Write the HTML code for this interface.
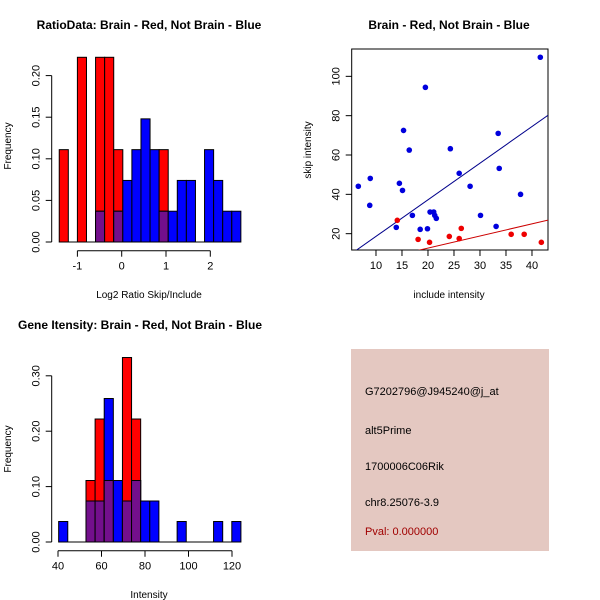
<!DOCTYPE html>
<html><head><meta charset="utf-8"><style>
body{margin:0;background:#fff}
svg{display:block;font-family:"Liberation Sans",sans-serif}
</style></head><body>
<svg id="c" width="600" height="600" viewBox="0 0 600 600" xmlns="http://www.w3.org/2000/svg">
<rect width="600" height="600" fill="#fff"/>
<g id="p1"></g>
<g id="p2"></g>
<g id="p3"></g>
<g>
<rect x="351" y="349" width="198" height="202" fill="#e4c8c1"/>
<text x="365" y="395" font-size="11">G7202796@J945240@j_at</text>
<text x="365" y="434" font-size="11">alt5Prime</text>
<text x="365" y="470" font-size="11">1700006C06Rik</text>
<text x="365" y="506" font-size="11">chr8.25076-3.9</text>
<text x="365" y="535" font-size="11" fill="#a00000">Pval: 0.000000</text>
</g>
</svg>
<script>
// Panel 1: ratio histogram
const ratioBinStart = -1.41;
const ratioBinWidth = 0.205;
const ratioRed  = [0.111,0,0.222,0,0.222,0.222,0.111,0,0,0,0,0.111,0,0,0,0,0,0,0,0];
const ratioBlue = [0,0,0,0,0.037,0,0.037,0.074,0.111,0.148,0.111,0.037,0.037,0.074,0.074,0,0.111,0.074,0.037,0.037];
const ratioXTicks = [-1,0,1,2];
const ratioYTicks = ["0.00","0.05","0.10","0.15","0.20"];

// Panel 2: scatter
const blueX = [6.6,8.9,8.8,14.5,15.1,15.3,16.4,13.9,17.0,19.5,18.5,19.9,20.4,21.1,21.3,21.6,24.3,26.0,28.1,30.1,33.1,33.5,33.7,37.8,41.6];
const blueY = [44.1,48.1,34.4,45.6,42.0,72.5,62.5,23.2,29.3,94.4,22.2,22.5,31.0,31.0,29.3,27.8,63.2,50.7,44.1,29.3,23.7,71.0,53.2,40.0,109.7];
const redX = [14.1,18.1,20.3,24.1,26.0,26.4,36.0,38.5,41.8];
const redY = [26.8,17.1,15.6,18.6,17.5,22.7,19.7,19.7,15.6];
const blueFit = [0.0, 1.862];
const redFit = [0.35, 0.616];
const scatXTicks = [10,15,20,25,30,35,40];
const scatYTicks = [20,40,60,80,100];

// Panel 3: intensity histogram
const intBinStart = 40.3;
const intBinWidth = 4.19;
const intRed  = [0,0,0,0.111,0.222,0.111,0,0.333,0.222,0,0,0,0,0,0,0,0,0,0,0];
const intBlue = [0.037,0,0,0.074,0.074,0.259,0.111,0.074,0.111,0.074,0.074,0,0,0.037,0,0,0,0.037,0,0.037];
const intXTicks = [40,60,80,100,120];
const intYTicks = ["0.00","0.10","0.20","0.30"];

const NS="http://www.w3.org/2000/svg";
function mk(parent,tag,attrs){const e=document.createElementNS(NS,tag);for(const k in attrs)e.setAttribute(k,attrs[k]);parent.appendChild(e);return e;}
const RED="#ff0000",BLUE="#0000ff",PURP="#730f8c";

function hist(g,o){
  const sx=v=>o.x0+(v-o.xv0)*o.kx, sy=v=>o.y0-v*o.ky;
  const n=o.red.length;
  for(let i=0;i<n;i++){
    const a=sx(o.start+i*o.w), b=sx(o.start+(i+1)*o.w);
    const r=o.red[i], bl=o.blue[i];
    if(r>0){const e=mk(g,'rect',{x:a,y:sy(r),width:b-a,height:sy(0)-sy(r),fill:RED,stroke:'#000','stroke-width':1});
      
      }
    if(bl>0){const e=mk(g,'rect',{x:a,y:sy(bl),width:b-a,height:sy(0)-sy(bl),fill:BLUE,stroke:'#000','stroke-width':1});
      
      }
    const m=Math.min(r,bl);
    if(m>0){const e=mk(g,'rect',{x:a,y:sy(m),width:b-a,height:sy(0)-sy(m),fill:PURP,stroke:'#000','stroke-width':1});
      
      }
  }
  const bl=mk(g,'line',{x1:sx(o.start),x2:sx(o.start+n*o.w),y1:sy(0),y2:sy(0),stroke:'#000'});
  
  
  const xa=mk(g,'g',{});
  
  
  const xt=o.xTicks;
  mk(xa,'line',{x1:sx(xt[0]),x2:sx(xt[xt.length-1]),y1:o.axY,y2:o.axY,stroke:'#000'});
  xt.forEach(t=>{mk(xa,'line',{x1:sx(t),x2:sx(t),y1:o.axY,y2:o.axY+6,stroke:'#000'});
    const tx=mk(xa,'text',{x:sx(t),y:o.axY+19,'font-size':11,'text-anchor':'middle'});tx.textContent=t;
    
    });
  const ya=mk(g,'g',{});
  
  
  const yt=o.yTicks.map(Number);
  mk(ya,'line',{x1:o.axX,x2:o.axX,y1:sy(yt[0]),y2:sy(yt[yt.length-1]),stroke:'#000'});
  o.yTicks.forEach(t=>{const y=sy(+t);mk(ya,'line',{x1:o.axX,x2:o.axX-6,y1:y,y2:y,stroke:'#000'});
    const tx=mk(ya,'text',{x:o.axX-12,y:y,'font-size':11,'text-anchor':'middle',transform:`rotate(-90 ${o.axX-12} ${y})`});tx.textContent=t;
    
    });
}
function labels(g,title,tx,ty,xl,xlx,xly,yl,ylx,yly){
  const t=mk(g,'text',{x:tx,y:ty,'font-size':12,'font-weight':'bold','text-anchor':'middle'});t.textContent=title;
  
  
  const x=mk(g,'text',{x:xlx,y:xly,'font-size':10,'text-anchor':'middle'});x.textContent=xl;
  
  
  const y=mk(g,'text',{x:ylx,y:yly,'font-size':10,'text-anchor':'middle',transform:`rotate(-90 ${ylx} ${yly})`});y.textContent=yl;
  
  
}

const g1=document.getElementById('p1');
hist(g1,{x0:121.7,xv0:0,kx:44.3,y0:242,ky:832,start:ratioBinStart,w:ratioBinWidth,red:ratioRed,blue:ratioBlue,xTicks:ratioXTicks,yTicks:ratioYTicks,axY:250.7,axX:51.7});
labels(g1,'RatioData: Brain - Red, Not Brain - Blue',149,29,'Log2 Ratio Skip/Include',149,298,'Frequency',11,146);

const g2=document.getElementById('p2');
const X0=351.7,X1=548,Y0=250,Y1=49;
const xv0=5.33,xv1=43.08,yv0=11.7,yv1=113.9;
const sx2=v=>X0+(v-xv0)/(xv1-xv0)*(X1-X0), sy2=v=>Y0-(v-yv0)/(yv1-yv0)*(Y0-Y1);
const box=mk(g2,'rect',{x:X0,y:Y1,width:X1-X0,height:Y0-Y1,fill:'none',stroke:'#000'});


const cp=mk(g2,'clipPath',{id:'clip2'});mk(cp,'rect',{x:X0,y:Y1,width:X1-X0,height:Y0-Y1});
function fitLine(f,col,name){
  const l=mk(g2,'line',{x1:sx2(xv0),y1:sy2(f[0]+f[1]*xv0),x2:sx2(xv1),y2:sy2(f[0]+f[1]*xv1),stroke:col,'stroke-width':1,'clip-path':'url(#clip2)'});
  
  
}
fitLine(blueFit,'#00008b','blue-fit-line');
fitLine(redFit,'#cc0000','red-fit-line');
blueX.forEach((x,i)=>{const c=mk(g2,'circle',{cx:sx2(x),cy:sy2(blueY[i]),r:2.8,fill:'#0000dd'});
  
  });
redX.forEach((x,i)=>{const c=mk(g2,'circle',{cx:sx2(x),cy:sy2(redY[i]),r:2.8,fill:'#ee0000'});
  
  });
scatXTicks.forEach(t=>{mk(g2,'line',{x1:sx2(t),x2:sx2(t),y1:Y0,y2:Y0+6,stroke:'#000'});
  const tx=mk(g2,'text',{x:sx2(t),y:Y0+19,'font-size':11,'text-anchor':'middle'});tx.textContent=t;
  
  });
scatYTicks.forEach(t=>{const y=sy2(t);mk(g2,'line',{x1:X0,x2:X0-6,y1:y,y2:y,stroke:'#000'});
  const tx=mk(g2,'text',{x:X0-12,y:y,'font-size':11,'text-anchor':'middle',transform:`rotate(-90 ${X0-12} ${y})`});tx.textContent=t;
  
  });
labels(g2,'Brain - Red, Not Brain - Blue',449,29,'include intensity',449,298,'skip intensity',311,150);

const g3=document.getElementById('p3');
hist(g3,{x0:58,xv0:40,kx:2.175,y0:542,ky:554,start:intBinStart,w:intBinWidth,red:intRed,blue:intBlue,xTicks:intXTicks,yTicks:intYTicks,axY:550.7,axX:51.7});
labels(g3,'Gene Itensity: Brain - Red, Not Brain - Blue',140,329,'Intensity',149,598,'Frequency',11,449);
</script>
</body></html>
